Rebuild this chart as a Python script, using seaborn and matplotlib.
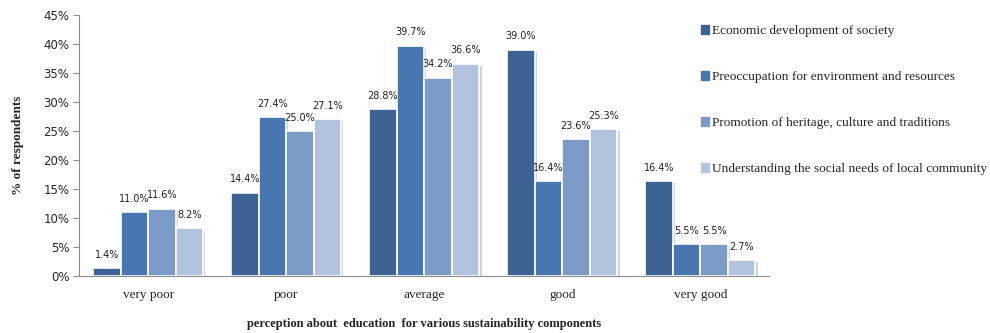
import numpy as np
import pandas as pd
import matplotlib
matplotlib.use("Agg")
import matplotlib.pyplot as plt
import matplotlib.patheffects as pe
from matplotlib.ticker import PercentFormatter
import seaborn as sns

# data (percent of respondents)
categories = ["very poor", "poor", "average", "good", "very good"]
series = [
    "Economic development of society",
    "Preoccupation for environment and resources",
    "Promotion of heritage, culture and traditions",
    "Understanding the social needs of local community",
]
economic = [1.4, 14.4, 28.8, 39.0, 16.4]
environment = [11.0, 27.4, 39.7, 16.4, 5.5]
heritage = [11.6, 25.0, 34.2, 23.6, 5.5]
social = [8.2, 27.1, 36.6, 25.3, 2.7]

colors = ["#3C6393", "#4776B0", "#7B9AC6", "#B3C3DE"]

rows = []
for name, vals in zip(series, [economic, environment, heritage, social]):
    for cat, v in zip(categories, vals):
        rows.append({"category": cat, "series": name, "value": v})
df = pd.DataFrame(rows)

sns.set_style("white")
serif = ["Liberation Serif", "DejaVu Serif"]

fig = plt.figure(figsize=(9.9, 3.33), dpi=100)
ax = fig.add_axes([0.08, 0.171, 0.697, 0.784])

sns.barplot(data=df, x="category", y="value", hue="series", order=categories,
            hue_order=series, palette=colors, width=0.8, ax=ax,
            edgecolor="white", linewidth=1.2, errorbar=None, saturation=1)

shadow = [pe.SimplePatchShadow(offset=(1.5, -1.5), shadow_rgbFace="#888888", alpha=0.35),
          pe.Normal()]
for cont in ax.containers:
    for bar in cont:
        bar.set_path_effects(shadow)
    ax.bar_label(cont, fmt="%.1f%%", padding=6, fontsize=7, color="#222222")

ax.set_ylim(0, 45)
ax.set_yticks(np.arange(0, 46, 5))
ax.yaxis.set_major_formatter(PercentFormatter(decimals=0))
ax.set_xlim(-0.5, 4.5)

for s in ["top", "right"]:
    ax.spines[s].set_visible(False)
ax.spines["left"].set_color("#8C8C8C")
ax.spines["bottom"].set_color("#8C8C8C")
ax.tick_params(axis="y", which="major", left=True, length=4, color="#8C8C8C",
               labelsize=8.5, pad=3)
ax.tick_params(axis="x", bottom=False, pad=6)
for lab in ax.get_xticklabels():
    lab.set_fontfamily(serif)
    lab.set_fontsize(9.5)

ax.set_ylabel("% of respondents", fontfamily=serif, fontweight="bold",
              fontsize=9.5, labelpad=14)
ax.set_xlabel("perception about  education  for various sustainability components",
              fontfamily=serif, fontweight="bold", fontsize=9, labelpad=12)

ax.legend_.remove()
handles = [plt.Rectangle((0, 0), 1, 1, color=c) for c in colors]
fig.legend(handles, series, loc="upper left", bbox_to_anchor=(0.708, 0.925),
           frameon=False, prop={"family": serif, "size": 9.6},
           handlelength=0.6, handleheight=0.6, handletextpad=0.25,
           labelspacing=2.55, borderpad=0, borderaxespad=0)

fig.savefig("out.png", dpi=100)
